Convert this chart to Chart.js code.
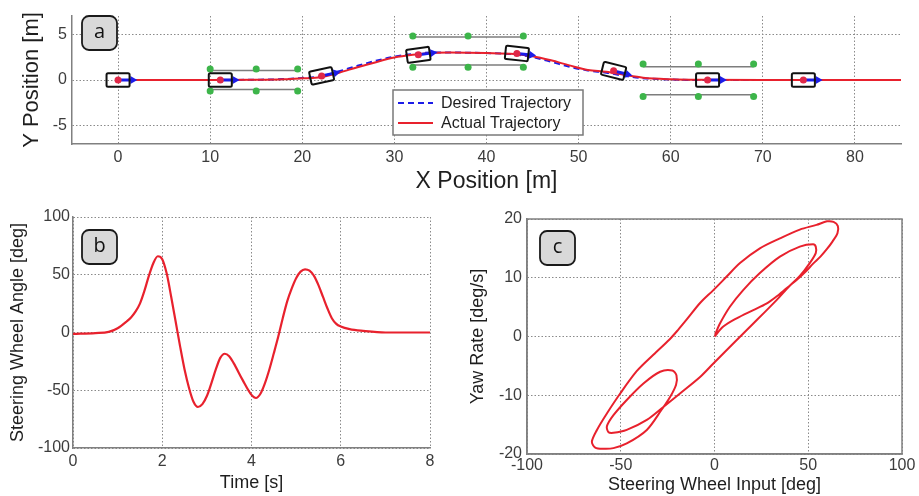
<!DOCTYPE html>
<html>
<head>
<meta charset="utf-8">
<script src="https://cdn.jsdelivr.net/npm/chart.js@4.4.0/dist/chart.umd.min.js"></script>
<style>
    body { margin: 0; background: #ffffff; }
    .panel { position: absolute; }
    #wrapA { left: 0; top: 0; }
    #wrapB { left: 0; top: 200px; }
    #wrapC { left: 460px; top: 200px; }
</style>
</head>
<body>
<div class="panel" id="wrapA"><canvas id="chartA" width="919" height="196"></canvas></div>
<div class="panel" id="wrapB"><canvas id="chartB" width="460" height="296"></canvas></div>
<div class="panel" id="wrapC"><canvas id="chartC" width="459" height="296"></canvas></div>
<script>
// ---- panel a : lane change trajectory ----
const trajX    = [0, 10, 15, 18, 20, 22, 24, 26, 28, 30, 32, 34, 36, 40, 43, 45, 47, 49, 51, 53, 55, 57, 60, 63, 70, 85];
const actualY  = [0, 0, 0.02, 0.08, 0.18, 0.3, 0.8, 1.4, 1.95, 2.45, 2.75, 2.95, 3.0, 2.95, 2.85, 2.6, 2.15, 1.6, 1.1, 0.9, 0.55, 0.25, 0.08, 0.02, 0, 0];
const desiredY = [0, 0, 0.03, 0.1, 0.22, 0.4, 0.95, 1.55, 2.1, 2.55, 2.85, 3.0, 3.0, 2.95, 2.8, 2.5, 2.0, 1.45, 1.05, 0.8, 0.45, 0.2, 0.05, 0, 0, 0];

const carX       = [0, 11.1, 22.1, 32.6, 43.3, 53.8, 64.0, 74.4];
const carY       = [0, 0, 0.45, 2.75, 2.9, 1.0, 0, 0];
const carHeading = [0, 0, 12, 8, -6, -14, 0, 0];   // deg, as seen on screen

const coneX = [10, 15, 19.5, 10, 15, 19.5, 32, 38, 44, 32, 38, 44, 57, 63, 69, 57, 63, 69];
const coneY = [1.2, 1.2, 1.2, -1.2, -1.2, -1.2, 4.8, 4.8, 4.8, 1.4, 1.4, 1.4, 1.75, 1.75, 1.75, -1.8, -1.8, -1.8];

const laneStartX = [10, 10, 32, 32, 57, 57];
const laneEndX   = [19.5, 19.5, 44, 44, 69, 69];
const laneY      = [1.05, -1.05, 4.7, 1.65, 1.45, -1.6];

const topXTicks = [0, 10, 20, 30, 40, 50, 60, 70, 80];
const topYTicks = [-5, 0, 5];

// ---- panel b : steering wheel angle vs time ----
const timeS = [0, 0.5, 0.8, 1.0, 1.2, 1.3, 1.4, 1.5, 1.6, 1.7, 1.8, 1.9, 2.0, 2.1, 2.2, 2.3, 2.4, 2.5, 2.6, 2.7, 2.8, 2.9, 3.0,
               3.1, 3.2, 3.3, 3.4, 3.5, 3.6, 3.8, 4.0, 4.1, 4.2, 4.3, 4.4, 4.5, 4.6, 4.7, 4.8, 4.9, 5.0, 5.1, 5.2, 5.3,
               5.4, 5.5, 5.6, 5.7, 5.8, 5.9, 6.0, 6.2, 6.5, 7.0, 8.0];
const steerAngle = [-1.2, -0.5, 0.5, 3.7, 9.5, 13, 18, 25, 36, 49, 60, 66, 63.5, 51, 31, 9.5, -12, -32, -48, -60, -64.5, -62, -55,
                    -44, -32, -22, -18.4, -20.5, -26.5, -41, -54, -56.7, -53, -44, -32, -18, -3.5, 12.4, 27, 38, 47, 52.7, 54.7, 53.5,
                    49, 41, 31, 21, 12.4, 7.5, 5.2, 2.9, 1.4, 0, 0];
const timeTicks  = [0, 2, 4, 6, 8];
const angleTicks = [-100, -50, 0, 50, 100];

// ---- panel c : yaw rate vs steering input (in time order) ----
const steerInput = [0, 4.7, 11.8, 20.7, 27.7, 33, 38.4, 43.8, 48.5, 52.6, 56.5, 60, 63, 65.6, 65.8, 63.5, 60,
                    54.4, 45.5, 34.9, 24.2, 13.6, 6.5, -0.6, -7.7, -14.8, -19.5, -24, -32.6, -41.5, -50.3, -57.4, -62.7, -65.4, -63.6, -59.2,
                    -53.9, -46.8, -36.1, -28.5, -23.7, -20.5, -20.3, -22.5, -29,
                    -37.9, -46.8, -53.9, -57.4, -56.5, -53.9,
                    -46.8, -36.1, -27.3, -18.4, -7.7, -0.6, 10, 20.7, 33.1, 40, 45.5, 50.8, 54, 54, 52.6,
                    45.5, 34.9, 24.2, 15.3, 8.3, 2.9, 0.3];
const yawRate = [0, 1.7, 3.1, 4.5, 5.6, 6.8, 8.2, 9.6, 11, 12.4, 13.6, 14.9, 16.2, 17.6, 18.8, 19.5, 19.6,
                 19.0, 18.2, 16.7, 15.0, 12.5, 10.2, 7.9, 5.7, 2.9, 1.1, -0.5, -3.1, -5.9, -9.7, -13.1, -15.9, -17.9, -18.9, -19.1,
                 -19.0, -18.2, -15.9, -12.6, -10.3, -8.2, -6.6, -5.8, -6.0,
                 -8.0, -10.8, -13.4, -15.3, -16.3, -16.4,
                 -15.9, -14.2, -12.0, -9.7, -6.9, -4.6, -1.2, 2.2, 6.2, 8.6, 10.3, 12.5, 14.2, 15.3, 15.7,
                 15.3, 13.6, 10.8, 7.9, 5.1, 2.2, 0.3];
const steerTicks = [-100, -50, 0, 50, 100];
const yawTicks   = [-20, -10, 0, 10, 20];

const FONT = '"Liberation Sans", Arial, sans-serif';
const RED = '#e8212d';
const BLUE = '#1c1ce8';

function fixedTicks(values) {
    return scale => { scale.ticks = values.map(v => ({ value: v })); };
}

function points(xs, ys) {
    return xs.map((x, i) => ({ x: x, y: ys[i] }));
}

function axis(opts) {
    return {
        type: 'linear',
        min: opts.min,
        max: opts.max,
        afterBuildTicks: fixedTicks(opts.ticks),
        afterFit: opts.fit,
        ticks: {
            autoSkip: false,
            maxRotation: 0,
            padding: opts.tickPad,
            color: '#3c3c3c',
            font: { family: FONT, size: 16 }
        },
        grid: {
            color: '#8a8a8a',
            lineWidth: 1,
            drawTicks: false
        },
        border: {
            display: true,
            color: '#808080',
            width: 1.5,
            dash: [1.5, 2]
        },
        title: {
            display: true,
            text: opts.title,
            color: '#1e1e1e',
            font: { family: FONT, size: opts.titleSize },
            padding: opts.titlePad
        }
    };
}

// car outlines + heading arrows, drawn right after the actual trajectory
const carPlugin = {
    id: 'cars',
    afterDatasetDraw(chart, args) {
        if (chart.data.datasets[args.index].label !== 'Actual Trajectory') return;
        const ctx = chart.ctx;
        const x = chart.scales.x, y = chart.scales.y;
        const len = x.getPixelForValue(2.5) - x.getPixelForValue(0);
        const wid = y.getPixelForValue(0) - y.getPixelForValue(1.45);
        const arrow = x.getPixelForValue(2.1) - x.getPixelForValue(0);
        ctx.save();
        carX.forEach((cx, i) => {
            ctx.save();
            ctx.translate(x.getPixelForValue(cx), y.getPixelForValue(carY[i]));
            ctx.rotate(-carHeading[i] * Math.PI / 180);
            ctx.strokeStyle = BLUE;
            ctx.lineWidth = 3;
            ctx.beginPath();
            ctx.moveTo(0, 0);
            ctx.lineTo(arrow - 5, 0);
            ctx.stroke();
            ctx.fillStyle = BLUE;
            ctx.beginPath();
            ctx.moveTo(arrow, 0);
            ctx.lineTo(arrow - 7, -4);
            ctx.lineTo(arrow - 7, 4);
            ctx.closePath();
            ctx.fill();
            ctx.strokeStyle = '#111111';
            ctx.lineWidth = 2;
            ctx.beginPath();
            ctx.roundRect(-len / 2, -wid / 2, len, wid, 1.5);
            ctx.stroke();
            ctx.restore();
        });
        ctx.restore();
    }
};

const legendBox = {
    id: 'legendBox',
    afterDraw(chart, args, opts) {
        const ctx = chart.ctx;
        const items = chart.data.datasets.filter(d => d.label);
        ctx.save();
        ctx.fillStyle = '#ffffff';
        ctx.strokeStyle = '#7a7a7a';
        ctx.lineWidth = 1.5;
        ctx.fillRect(opts.left, opts.top, opts.width, opts.height);
        ctx.strokeRect(opts.left, opts.top, opts.width, opts.height);
        items.forEach((d, i) => {
            const ly = opts.top + 13 + i * 20;
            ctx.strokeStyle = d.borderColor;
            ctx.lineWidth = d.borderWidth;
            ctx.setLineDash(d.borderDash || []);
            ctx.beginPath();
            ctx.moveTo(opts.left + 5, ly);
            ctx.lineTo(opts.left + 40, ly);
            ctx.stroke();
            ctx.setLineDash([]);
            ctx.fillStyle = '#1e1e1e';
            ctx.font = '16px ' + FONT;
            ctx.textBaseline = 'middle';
            ctx.fillText(d.label, opts.left + 48, ly + 1);
        });
        ctx.restore();
    }
};

const tagBox = {
    id: 'tagBox',
    afterDraw(chart, args, opts) {
        const ctx = chart.ctx;
        const bx = chart.chartArea.left + opts.dx;
        const by = chart.chartArea.top + opts.dy;
        ctx.save();
        ctx.beginPath();
        ctx.roundRect(bx, by, 35, 34, 7);
        ctx.fillStyle = '#d9d9d9';
        ctx.fill();
        ctx.lineWidth = 1.8;
        ctx.strokeStyle = '#1a1a1a';
        ctx.stroke();
        ctx.fillStyle = '#111111';
        ctx.font = '20px "Open Sans", ' + FONT;
        ctx.textAlign = 'center';
        ctx.textBaseline = 'middle';
        ctx.fillText(opts.text, bx + 17.5, by + 16);
        ctx.restore();
    }
};

const frameBox = {
    id: 'frameBox',
    afterDatasetsDraw(chart) {
        const { ctx, chartArea: a } = chart;
        ctx.save();
        ctx.strokeStyle = '#808080';
        ctx.lineWidth = 1.5;
        ctx.strokeRect(a.left, a.top, a.right - a.left, a.bottom - a.top);
        ctx.restore();
    }
};

// ---------- chart a ----------
const laneSets = laneStartX.map((sx, i) => ({
    data: [{ x: sx, y: laneY[i] }, { x: laneEndX[i], y: laneY[i] }],
    showLine: true,
    borderColor: '#7d7d7d',
    borderWidth: 1.5,
    pointRadius: 0,
    order: 6
}));

new Chart(document.getElementById('chartA'), {
    type: 'scatter',
    data: {
        datasets: [
            ...laneSets,
            {
                data: points(coneX, coneY),
                pointRadius: 3.5,
                pointBackgroundColor: '#3db54a',
                pointBorderWidth: 0,
                order: 5
            },
            {
                label: 'Desired Trajectory',
                data: points(trajX, desiredY),
                showLine: true,
                borderColor: BLUE,
                borderWidth: 2,
                borderDash: [6, 4],
                pointRadius: 0,
                cubicInterpolationMode: 'monotone',
                order: 4
            },
            {
                label: 'Actual Trajectory',
                data: points(trajX, actualY),
                showLine: true,
                borderColor: RED,
                borderWidth: 2,
                pointRadius: 0,
                cubicInterpolationMode: 'monotone',
                order: 3
            },
            {
                data: points(carX, carY),
                pointRadius: 3.5,
                pointBackgroundColor: '#e02848',
                pointBorderWidth: 0,
                order: 1
            }
        ]
    },
    options: {
        responsive: false,
        animation: false,
        layout: { padding: { left: 0, top: 16, right: 18, bottom: 0 } },
        plugins: {
            legend: { display: false },
            tooltip: { enabled: false },
            legendBox: { left: 393, top: 90, width: 190, height: 45 },
            tagBox: { text: 'a', dx: 10, dy: 0 }
        },
        scales: {
            x: axis({ min: -5, max: 85, ticks: topXTicks, tickPad: 4, title: 'X Position [m]', titleSize: 23,
                      titlePad: { top: 0, bottom: 1 }, fit: s => { s.height = 52; } }),
            y: axis({ min: -7, max: 7, ticks: topYTicks, tickPad: 5, title: 'Y Position [m]', titleSize: 22,
                      titlePad: { top: 19, bottom: 0 }, fit: s => { s.width = 72; } })
        }
    },
    plugins: [carPlugin, legendBox, tagBox]
});

// ---------- chart b ----------
new Chart(document.getElementById('chartB'), {
    type: 'scatter',
    data: {
        datasets: [{
            data: points(timeS, steerAngle),
            showLine: true,
            borderColor: RED,
            borderWidth: 2.2,
            pointRadius: 0,
            cubicInterpolationMode: 'monotone'
        }]
    },
    options: {
        responsive: false,
        animation: false,
        layout: { padding: { left: 0, top: 17, right: 30, bottom: 0 } },
        plugins: {
            legend: { display: false },
            tooltip: { enabled: false },
            tagBox: { text: 'b', dx: 9, dy: 13 }
        },
        scales: {
            x: axis({ min: 0, max: 8, ticks: timeTicks, tickPad: 4, title: 'Time [s]', titleSize: 18,
                      titlePad: { top: 0, bottom: 2 }, fit: s => { s.height = 48; } }),
            y: axis({ min: -100, max: 100, ticks: angleTicks, tickPad: 3, title: 'Steering Wheel Angle [deg]', titleSize: 18,
                      titlePad: { top: 7, bottom: 0 }, fit: s => { s.width = 73; } })
        }
    },
    plugins: [tagBox]
});

// ---------- chart c ----------
new Chart(document.getElementById('chartC'), {
    type: 'scatter',
    data: {
        datasets: [{
            data: points(steerInput, yawRate),
            showLine: true,
            borderColor: RED,
            borderWidth: 2,
            pointRadius: 0,
            tension: 0.3
        }]
    },
    options: {
        responsive: false,
        animation: false,
        layout: { padding: { left: 0, top: 19, right: 17, bottom: 0 } },
        plugins: {
            legend: { display: false },
            tooltip: { enabled: false },
            tagBox: { text: 'c', dx: 13, dy: 12 }
        },
        scales: {
            x: axis({ min: -100, max: 100, ticks: steerTicks, tickPad: 2, title: 'Steering Wheel Input [deg]', titleSize: 18,
                      titlePad: { top: 0, bottom: 0 }, fit: s => { s.height = 42; } }),
            y: axis({ min: -20, max: 20, ticks: yawTicks, tickPad: 5, title: 'Yaw Rate [deg/s]', titleSize: 18,
                      titlePad: { top: 7, bottom: 0 }, fit: s => { s.width = 67; } })
        }
    },
    plugins: [frameBox, tagBox]
});
</script>
</body>
</html>
